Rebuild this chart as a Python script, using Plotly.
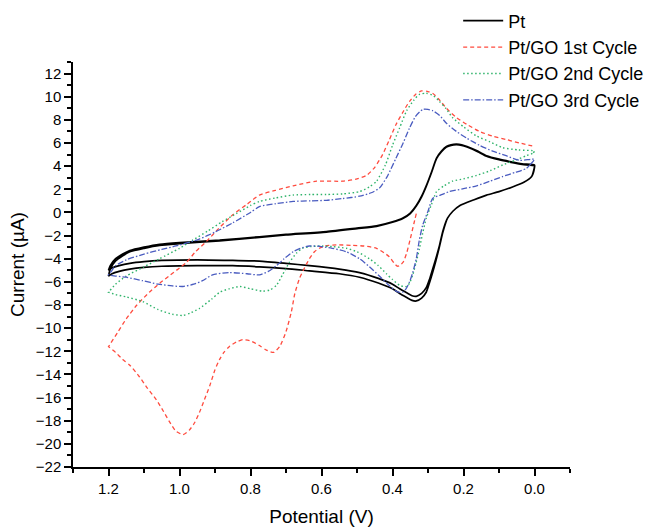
import plotly.graph_objects as go

# ---------------- data (Potential in V, Current in µA) ----------------
pt_v_fwd = [0.0, 0.008, 0.03, 0.062, 0.1, 0.135, 0.17, 0.21, 0.23, 0.245, 0.258, 0.268, 0.278,
            0.287, 0.296, 0.305, 0.318, 0.333, 0.345, 0.36, 0.38, 0.4, 0.44, 0.493, 0.55, 0.634,
            0.7, 0.775, 0.85, 0.95, 1.05, 1.1, 1.14, 1.17, 1.19, 1.2]
pt_i_fwd_1 = [3.9, 3.1, 2.6, 2.2, 1.8, 1.5, 1.1, 0.6, 0.1, -0.5, -1.6, -2.9, -4.0,
              -4.9, -5.8, -6.5, -7.0, -7.25, -7.2, -6.95, -6.6, -6.2, -5.7, -5.2, -4.9, -4.6,
              -4.4, -4.2, -4.15, -4.1, -4.15, -4.25, -4.4, -4.6, -4.8, -5.0]
pt_i_fwd_2 = [3.9, 3.1, 2.6, 2.2, 1.8, 1.5, 1.1, 0.6, 0.1, -0.5, -1.7, -3.0, -4.2,
              -5.2, -6.1, -6.9, -7.4, -7.65, -7.6, -7.35, -7.0, -6.6, -6.1, -5.6, -5.3, -5.05,
              -4.85, -4.7, -4.6, -4.6, -4.65, -4.75, -4.9, -5.1, -5.3, -5.5]
pt_v_rev = [1.2, 1.195, 1.18, 1.16, 1.14, 1.1, 1.056, 1.0, 0.887, 0.775, 0.7, 0.586, 0.5,
            0.445, 0.4, 0.372, 0.35, 0.333, 0.318, 0.305, 0.29, 0.276, 0.262, 0.248, 0.235,
            0.22, 0.205, 0.19, 0.16, 0.135, 0.1, 0.07, 0.035, 0.0]
pt_i_rev_1 = [-5.0, -4.6, -4.0, -3.6, -3.3, -3.0, -2.75, -2.6, -2.4, -2.1, -1.9, -1.65, -1.35,
              -1.15, -0.8, -0.5, -0.05, 0.6, 1.4, 2.3, 3.5, 4.7, 5.3, 5.7, 5.85,
              5.9, 5.85, 5.7, 5.3, 4.9, 4.6, 4.4, 4.2, 4.1]
pt_i_rev_2 = [-5.5, -4.9, -4.2, -3.75, -3.4, -3.1, -2.85, -2.7, -2.45, -2.15, -1.95, -1.7, -1.4,
              -1.2, -0.85, -0.55, -0.1, 0.55, 1.35, 2.25, 3.45, 4.65, 5.25, 5.65, 5.8,
              5.85, 5.8, 5.65, 5.25, 4.85, 4.55, 4.35, 4.15, 4.05]

go1_v_fwd = [0.333, 0.34, 0.35, 0.36, 0.37, 0.38, 0.386, 0.395, 0.41, 0.445, 0.48, 0.513, 0.558,
             0.59, 0.606, 0.62, 0.634, 0.648, 0.662, 0.675, 0.685, 0.7, 0.718, 0.735, 0.755,
             0.775, 0.8, 0.822, 0.84, 0.86, 0.875, 0.887, 0.9, 0.915, 0.93, 0.944, 0.958,
             0.972, 0.99, 1.01, 1.028, 1.045, 1.065, 1.09, 1.113, 1.14, 1.16, 1.18, 1.2]
go1_i_fwd = [-0.1, -1.0, -2.3, -3.5, -4.3, -4.6, -4.65, -4.4, -3.8, -3.1, -2.9, -2.85, -2.8,
             -2.9, -3.1, -3.4, -4.0, -4.8, -5.7, -7.0, -8.6, -10.3, -11.6, -12.1, -11.9,
             -11.5, -11.1, -11.0, -11.2, -11.6, -12.1, -12.7, -13.6, -15.0, -16.2, -17.3, -18.2,
             -18.8, -19.2, -18.9, -18.1, -17.2, -16.2, -15.2, -14.2, -13.2, -12.7, -12.1, -11.6]
go1_v_rev = [1.2, 1.175, 1.15, 1.12, 1.085, 1.055, 1.03, 1.0, 0.98, 0.955, 0.924, 0.89, 0.85,
             0.81, 0.775, 0.73, 0.68, 0.614, 0.54, 0.5, 0.473, 0.45, 0.428, 0.41, 0.39, 0.37,
             0.352, 0.335, 0.318, 0.3, 0.287, 0.27, 0.248, 0.22, 0.19, 0.155, 0.118, 0.08,
             0.042, 0.0]
go1_i_rev = [-11.6, -10.4, -9.2, -8.0, -6.9, -6.1, -5.5, -4.8, -4.3, -3.4, -2.5, -1.4, -0.2,
             0.7, 1.5, 1.9, 2.3, 2.7, 2.7, 2.9, 3.2, 3.9, 5.0, 6.2, 7.6, 8.7,
             9.6, 10.2, 10.5, 10.45, 10.3, 9.8, 9.0, 8.2, 7.6, 7.0, 6.6, 6.3,
             6.0, 5.7]

go2_v_fwd = [0.0, 0.006, 0.023, 0.055, 0.09, 0.125, 0.163, 0.2, 0.231, 0.255, 0.276, 0.29,
             0.305, 0.315, 0.324, 0.334, 0.344, 0.352, 0.36, 0.37, 0.38, 0.4, 0.417, 0.44,
             0.465, 0.5, 0.53, 0.57, 0.606, 0.63, 0.654, 0.67, 0.69, 0.71, 0.727, 0.745,
             0.766, 0.8, 0.83, 0.86, 0.887, 0.91, 0.944, 0.97, 0.99, 1.02, 1.06, 1.104,
             1.15, 1.18, 1.2]
go2_i_fwd = [5.3, 5.1, 4.9, 4.5, 4.1, 3.6, 3.2, 2.9, 2.7, 2.3, 1.8, 0.7,
             -0.5, -1.8, -3.1, -4.4, -5.5, -6.1, -6.4, -6.4, -6.3, -5.8, -5.3, -4.6,
             -4.0, -3.4, -3.1, -2.95, -2.9, -2.95, -3.1, -3.5, -4.3, -5.4, -6.3, -6.7,
             -6.8, -6.6, -6.4, -6.6, -6.9, -7.5, -8.3, -8.7, -8.9, -8.8, -8.4, -7.7,
             -7.3, -7.1, -6.9]
go2_v_rev = [1.2, 1.18, 1.15, 1.1, 1.056, 1.0, 0.963, 0.92, 0.88, 0.84, 0.8, 0.775, 0.73,
             0.68, 0.63, 0.586, 0.54, 0.493, 0.465, 0.445, 0.42, 0.4, 0.38, 0.36, 0.34,
             0.324, 0.305, 0.285, 0.268, 0.25, 0.231, 0.2, 0.163, 0.125, 0.09, 0.045, 0.0]
go2_i_rev = [-6.9, -6.2, -5.5, -4.7, -4.0, -3.1, -2.4, -1.6, -0.8, -0.1, 0.6, 0.95, 1.25,
             1.5, 1.55, 1.55, 1.6, 1.8, 2.2, 2.7, 4.1, 5.8, 7.3, 8.8, 9.7,
             10.2, 10.3, 10.1, 9.6, 9.0, 8.2, 7.4, 6.6, 6.1, 5.6, 5.4, 5.3]

go3_v_fwd = [0.0, 0.01, 0.023, 0.055, 0.09, 0.125, 0.163, 0.2, 0.24, 0.265, 0.287, 0.3,
             0.315, 0.325, 0.333, 0.343, 0.352, 0.362, 0.372, 0.38, 0.39, 0.41, 0.437, 0.465,
             0.493, 0.53, 0.57, 0.6, 0.634, 0.66, 0.68, 0.705, 0.727, 0.75, 0.775, 0.81,
             0.86, 0.907, 0.935, 0.96, 0.99, 1.02, 1.06, 1.104, 1.15, 1.18, 1.2]
go3_i_fwd = [4.6, 4.2, 3.8, 3.45, 3.1, 2.7, 2.3, 2.05, 1.8, 1.5, 1.2, 0.1,
             -1.1, -2.5, -4.0, -5.2, -6.0, -6.6, -6.9, -6.9, -6.8, -6.3, -5.5, -4.7,
             -4.0, -3.4, -3.1, -2.95, -2.9, -3.1, -3.4, -4.0, -4.6, -5.1, -5.4, -5.3,
             -5.2, -5.4, -5.9, -6.2, -6.4, -6.35, -6.2, -5.9, -5.6, -5.5, -5.4]
go3_v_rev = [1.2, 1.19, 1.18, 1.15, 1.1, 1.05, 1.01, 0.944, 0.9, 0.85, 0.8, 0.775, 0.73,
             0.68, 0.63, 0.586, 0.54, 0.493, 0.46, 0.437, 0.415, 0.39, 0.37, 0.352, 0.335,
             0.315, 0.3, 0.287, 0.268, 0.248, 0.22, 0.19, 0.155, 0.118, 0.08, 0.042, 0.0]
go3_i_rev = [-5.4, -5.0, -4.6, -4.1, -3.6, -3.2, -2.9, -2.3, -1.7, -0.9, 0.0, 0.5, 0.75,
             0.95, 1.0, 1.05, 1.2, 1.4, 1.7, 2.1, 3.1, 4.7, 6.0, 7.3, 8.3,
             8.9, 8.9, 8.8, 8.4, 7.7, 7.0, 6.4, 5.8, 5.3, 4.9, 4.5, 4.6]

series_names = ["Pt", "Pt/GO 1st Cycle", "Pt/GO 2nd Cycle", "Pt/GO 3rd Cycle"]
x_tick_vals = [1.2, 1.0, 0.8, 0.6, 0.4, 0.2, 0.0]
x_tick_text = ["1.2", "1.0", "0.8", "0.6", "0.4", "0.2", "0.0"]

# ---------------- figure ----------------
FONT = "Liberation Sans, Arial, sans-serif"
fig = go.Figure()

pt_x = pt_v_fwd + pt_v_rev + pt_v_fwd + pt_v_rev
pt_y = pt_i_fwd_1 + pt_i_rev_1 + pt_i_fwd_2 + pt_i_rev_2
fig.add_trace(go.Scatter(x=pt_x, y=pt_y, mode="lines", name=series_names[0],
                         line=dict(color="black", width=1.7, shape="spline", smoothing=0.6)))
fig.add_trace(go.Scatter(x=go1_v_fwd + go1_v_rev, y=go1_i_fwd + go1_i_rev, mode="lines",
                         name=series_names[1],
                         line=dict(color="#FF4B3E", width=1.3, dash="4px,3px",
                                   shape="spline", smoothing=0.6)))
fig.add_trace(go.Scatter(x=go2_v_fwd + go2_v_rev, y=go2_i_fwd + go2_i_rev, mode="lines",
                         name=series_names[2],
                         line=dict(color="#2FB36A", width=1.4, dash="1.5px,2.5px",
                                   shape="spline", smoothing=0.6)))
fig.add_trace(go.Scatter(x=go3_v_fwd + go3_v_rev, y=go3_i_fwd + go3_i_rev, mode="lines",
                         name=series_names[3],
                         line=dict(color="#4A5CC0", width=1.3, dash="6px,2px,1.5px,2px",
                                   shape="spline", smoothing=0.6)))

fig.update_layout(
    width=655, height=530,
    margin=dict(l=73, r=85, t=62, b=63, autoexpand=False),
    paper_bgcolor="white", plot_bgcolor="white",
    font=dict(family=FONT, color="black"),
    showlegend=True,
    legend=dict(x=0.775, y=1.147, xanchor="left", yanchor="top",
                font=dict(family=FONT, size=18, color="black"),
                bgcolor="rgba(0,0,0,0)", tracegroupgap=0, itemwidth=40),
)
fig.update_xaxes(
    range=[1.3, -0.1], tickvals=x_tick_vals, ticktext=x_tick_text,
    showline=True, linecolor="black", linewidth=1.5, mirror=False,
    ticks="outside", ticklen=7, tickwidth=1.5, tickcolor="black",
    minor=dict(dtick=0.1, tick0=0, ticks="outside", ticklen=4, tickwidth=1.5, tickcolor="black"),
    showgrid=False, zeroline=False,
    tickfont=dict(family=FONT, size=15),
    title=dict(text="Potential (V)", font=dict(family=FONT, size=19), standoff=14),
)
fig.update_yaxes(
    range=[-22, 13], tick0=0, dtick=2,
    showline=True, linecolor="black", linewidth=1.5, mirror=False,
    ticks="outside", ticklen=7, tickwidth=1.5, tickcolor="black",
    minor=dict(dtick=1, tick0=0, ticks="outside", ticklen=4, tickwidth=1.5, tickcolor="black"),
    showgrid=False, zeroline=False,
    tickfont=dict(family=FONT, size=15),
    title=dict(text="Current (µA)", font=dict(family=FONT, size=19), standoff=6),
)

fig.write_html("out.html")
